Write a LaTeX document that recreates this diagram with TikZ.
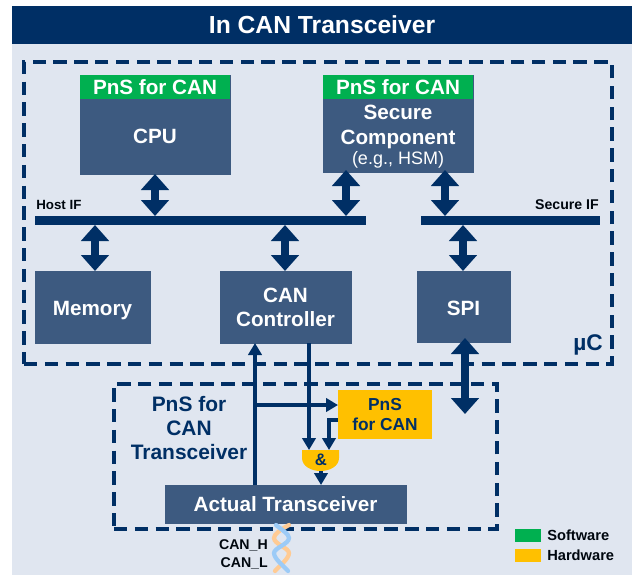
\documentclass[tikz,border=0pt]{standalone}
\usepackage{fontspec}
\setmainfont{Liberation Sans}
\usetikzlibrary{arrows.meta,positioning}
\definecolor{navy}{HTML}{002F65}
\definecolor{boxblue}{HTML}{3D5A80}
\definecolor{panel}{HTML}{E0E6F0}
\definecolor{pgreen}{HTML}{00B050}
\definecolor{pyellow}{HTML}{FFC000}
\definecolor{twista}{HTML}{FFCB94}
\definecolor{twistb}{HTML}{9CCBF7}
\tikzset{
  x=0.75pt,y=-0.75pt,
  rect/.style args={#1/#2}{rectangle,inner sep=0pt,outer sep=0pt,minimum width=#1*0.75pt,minimum height=#2*0.75pt,anchor=north west},
  darkbox/.style={fill=boxblue,draw=boxblue,line width=0.3pt,text=white,font=\bfseries\fontsize{15.5pt}{18pt}\selectfont,align=center},
  greenbar/.style={fill=pgreen,text=white,font=\bfseries\fontsize{15.5pt}{18pt}\selectfont},
  bus/.style={fill=navy},
  dashbox/.style={draw=navy,line width=2.4pt,dash pattern=on 10pt off 5.6pt},
  bigarrow/.style={draw=navy,line width=5.4pt,{Triangle[length=12pt,width=20.5pt]}-{Triangle[length=12pt,width=20.5pt]}},
  thin conn/.style={draw=navy,line width=2.3pt,-{Triangle[length=9pt,width=10pt]}},
  navylabel/.style={text=navy,font=\bfseries\fontsize{15.7pt}{17.8pt}\selectfont,align=center},
  smalllabel/.style={text=black!85!navy,font=\bfseries\fontsize{10pt}{11pt}\selectfont,inner sep=0pt},
}
\begin{document}
\begin{tikzpicture}
\useasboundingbox (0,0) rectangle (634,578);
\fill[white] (0,0) rectangle (634,578);
\fill[panel] (12,6) rectangle (632,575);
\node[rect=620/38,fill=navy,text=white,font=\bfseries\fontsize{18.5pt}{22pt}\selectfont] (title) at (12,6) {In CAN Transceiver};

% dashed regions
\node[rect=588/302,dashbox] (uc) at (24,62) {};
\node[rect=383/145,dashbox] (tr) at (114,384) {};

% blocks
\node[rect=150/99,darkbox] (cpu) at (80,75) {};
\node[rect=150/24,greenbar] (cpupns) at (80,75) {PnS for CAN};
\node[darkbox,draw=none,fill=none,inner sep=0pt] (cputext) at (155,136) {CPU};
\node[rect=150/97,darkbox] (sec) at (323,75) {};
\node[rect=150/24,greenbar] (secpns) at (323,75) {PnS for CAN};
\node[darkbox,draw=none,fill=none,inner sep=0pt,font=\bfseries\fontsize{15.5pt}{18.5pt}\selectfont] (sectext) at (398,127) {Secure\\Component};
\node[text=white,inner sep=0pt,font=\fontsize{13.5pt}{15pt}\selectfont] (sece) at (398,160) {(e.g., HSM)};
\node[rect=115/72,darkbox] (mem) at (35,271) {\raisebox{-6pt}[0pt][0pt]{Memory}};
\node[rect=131/72,darkbox] (ctrl) at (220,271) {CAN\\Controller};
\node[rect=93/71,darkbox] (spi) at (417,271) {\raisebox{-6.4pt}[0pt][0pt]{SPI}};
\node[rect=241/38,darkbox] (act) at (165,485) {Actual Transceiver};
\node[rect=94/49,fill=pyellow,text=navy,align=center,font=\bfseries\fontsize{13pt}{15.5pt}\selectfont] (pns) at (338,390) {PnS\\for CAN};

% buses
\node[rect=331/9,bus] (host) at (35,216) {};
\node[rect=179/9,bus] (secbus) at (421,216) {};

% AND gate
\fill[pyellow] (302,450) -- (339,450) -- (339,458) .. controls (339,466) and (330,471) .. (320.5,471) .. controls (311,471) and (302,466) .. (302,458) -- cycle;
\node[text=navy,inner sep=0pt,font=\bfseries\fontsize{12.5pt}{14pt}\selectfont] (andg) at (321,460) {\&};

% big arrows
\coordinate (h1) at (155,216); \coordinate (c1) at (155,174);
\coordinate (h2) at (346,216); \coordinate (s2) at (346,170);
\coordinate (b3) at (445,216); \coordinate (s3) at (445,170);
\coordinate (h4) at (95,225);  \coordinate (m4) at (95,271);
\coordinate (h5) at (285,225); \coordinate (m5) at (285,271);
\coordinate (b6) at (463,225); \coordinate (m6) at (463,271);
\coordinate (s7) at (465,338); \coordinate (e7) at (465,414);
\draw[bigarrow] (c1) -- (h1);
\draw[bigarrow] (s2) -- (h2);
\draw[bigarrow] (s3) -- (b3);
\draw[bigarrow] (h4) -- (m4);
\draw[bigarrow] (h5) -- (m5);
\draw[bigarrow] (b6) -- (m6);
\draw[bigarrow] (s7) -- (e7);

% thin connectors
\coordinate (a1) at (255,485); \coordinate (a2) at (255,343);
\coordinate (j1) at (255,405); \coordinate (j2) at (338,405);
\coordinate (k1) at (309,343); \coordinate (k2) at (309,450);
\coordinate (p1) at (338,420); \coordinate (p2) at (329,420); \coordinate (p3) at (329,450);
\coordinate (g1) at (321,471); \coordinate (g2) at (321,485);
\draw[thin conn] (a1) -- (a2);
\draw[thin conn] (j1) -- (j2);
\draw[thin conn] (k1) -- (k2);
\draw[thin conn] (p1) -- (p2) -- (p3);
\draw[thin conn] (g1) -- (g2);

% labels
\node[smalllabel,anchor=west] (hostif) at (36,205) {Host IF};
\node[smalllabel,anchor=east,font=\bfseries\fontsize{10.6pt}{11pt}\selectfont] (secif) at (599,205) {Secure IF};
\node[text=navy,font=\bfseries\fontsize{17pt}{18pt}\selectfont,inner sep=0pt,anchor=east] (mu) at (603,345) {µC};
\node[navylabel] (pnstr) at (189,428) {PnS for\\CAN\\Transceiver};

% twisted pair
\begin{scope}[line width=3.2pt,line cap=round]
\draw[twista] (289,525) .. controls (280,530) and (274,534) .. (274,538) .. controls (274,544) and (289,548) .. (289,553) .. controls (289,559) and (279,566) .. (275,571);
\draw[twistb] (276,525) .. controls (282,530) and (289,534) .. (289,538) .. controls (289,544) and (274,548) .. (274,553) .. controls (274,559) and (284,566) .. (288,571);
\end{scope}
\node[smalllabel,anchor=east,font=\bfseries\fontsize{10.6pt}{12pt}\selectfont] (canh) at (268,545) {CAN\_H};
\node[smalllabel,anchor=east,font=\bfseries\fontsize{10.6pt}{12pt}\selectfont] (canl) at (268,563) {CAN\_L};

% legend
\node[rect=26/13,fill=pgreen] (lg) at (515,529) {};
\node[rect=26/13,fill=pyellow] (ly) at (515,549) {};
\node[smalllabel,anchor=west,font=\bfseries\fontsize{11pt}{12pt}\selectfont] (lgt) at (547,535.5) {Software};
\node[smalllabel,anchor=west,font=\bfseries\fontsize{11pt}{12pt}\selectfont] (lyt) at (547,555.5) {Hardware};
\end{tikzpicture}
\end{document}
